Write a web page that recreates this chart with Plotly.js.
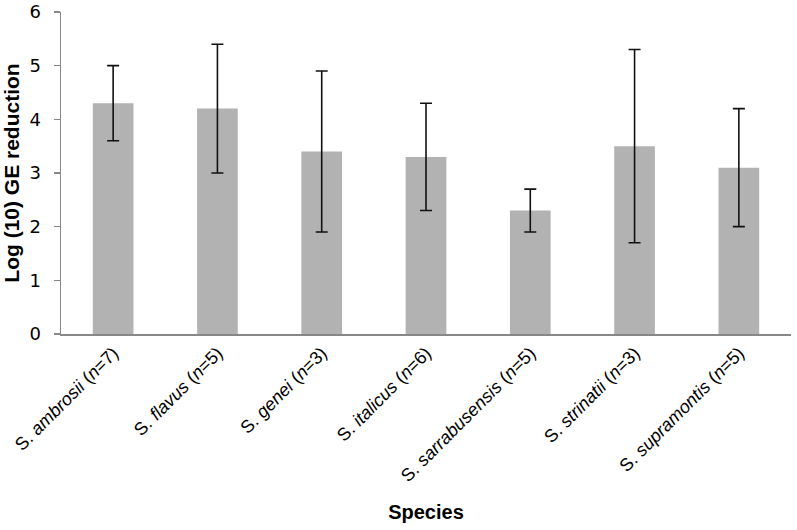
<!DOCTYPE html>
<html>
<head>
<meta charset="utf-8">
<script src="https://cdn.plot.ly/plotly-3.0.1.min.js"></script>
<style>html,body{margin:0;padding:0;background:#fff;}#chart{width:797px;height:530px;}</style>
</head>
<body>
<div id="chart"></div>
<script>
const categories = [
  "S. <i>ambrosii</i> (<i>n</i>=7)",
  "S. <i>flavus</i> (<i>n</i>=5)",
  "S. <i>genei</i> (<i>n</i>=3)",
  "S. <i>italicus</i> (<i>n</i>=6)",
  "S. <i>sarrabusensis</i> (<i>n</i>=5)",
  "S. <i>strinatii</i> (<i>n</i>=3)",
  "S. <i>supramontis</i> (<i>n</i>=5)"
];
const meanValues = [4.3, 4.2, 3.4, 3.3, 2.3, 3.5, 3.1];
const errorValues = [0.7, 1.2, 1.5, 1.0, 0.4, 1.8, 1.1];
const yTickValues = [0, 1, 2, 3, 4, 5, 6];

const trace = {
  type: 'bar',
  x: categories,
  y: meanValues,
  marker: {color: '#b2b2b2'},
  error_y: {type: 'data', array: errorValues, visible: true, color: '#111111', thickness: 1.6, width: 6},
  hoverinfo: 'skip'
};

const layout = {
  width: 797, height: 530,
  margin: {l: 61, r: 6, t: 12, b: 196},
  paper_bgcolor: '#fff', plot_bgcolor: '#fff',
  bargap: 0.61,
  showlegend: false,
  xaxis: {
    type: 'category',
    tickangle: -45,
    tickfont: {family: 'Liberation Sans, Arial, sans-serif', size: 18, color: '#000'},
    showline: true, linecolor: '#888', linewidth: 1.5,
    ticks: '', showgrid: false, zeroline: false,
    title: {text: '<b>Species</b>', font: {family: 'Liberation Sans, Arial, sans-serif', size: 20, color: '#000'}, standoff: 20}
  },
  yaxis: {
    range: [0, 6],
    tickvals: yTickValues,
    ticktext: yTickValues.map(String),
    tickfont: {family: 'DejaVu Sans, Verdana, sans-serif', size: 18, color: '#000'},
    ticklabelstandoff: 9,
    showline: true, linecolor: '#888', linewidth: 1.5,
    ticks: 'outside', ticklen: 6, tickcolor: '#888', tickwidth: 1.5,
    showgrid: false, zeroline: false,
    title: {text: '<b>Log (10) GE reduction</b>', font: {family: 'Liberation Sans, Arial, sans-serif', size: 21, color: '#000'}, standoff: 10}
  }
};

Plotly.newPlot('chart', [trace], layout, {staticPlot: true, displayModeBar: false});
</script>
</body>
</html>
